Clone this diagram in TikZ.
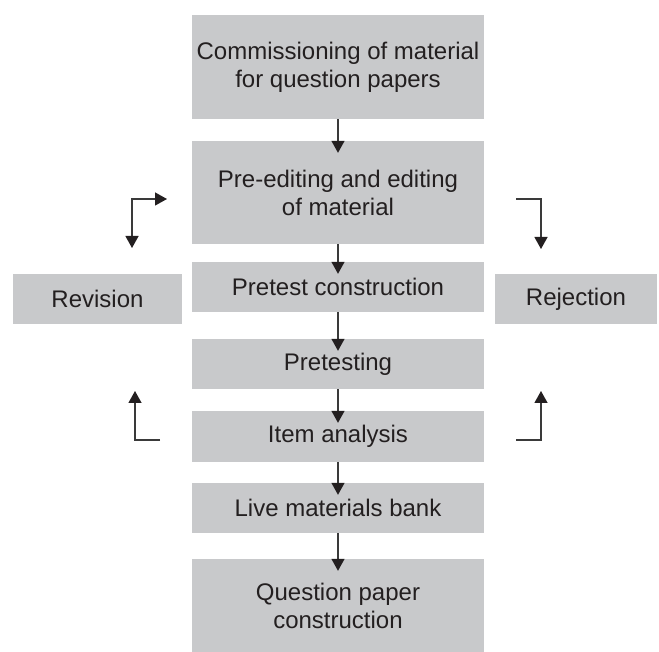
\documentclass[tikz,border=0pt]{standalone}
\usepackage{fontspec}
\setmainfont{Liberation Sans}
\usetikzlibrary{arrows.meta}
\definecolor{boxgray}{HTML}{C8C9CB}
\definecolor{ink}{HTML}{231F20}
\definecolor{linegray}{HTML}{3A3A3A}
\begin{document}
\begin{tikzpicture}[x=1pt,y=-1pt,
  stepbox/.style={fill=boxgray, draw=none, inner sep=0pt, align=center,
    text=ink, font=\fontsize{24}{28}\selectfont},
  flow/.style={draw=linegray, line width=1.3pt,
    -{Triangle[length=12pt,width=13pt,color=ink]}},
  flowboth/.style={draw=linegray, line width=1.3pt,
    {Triangle[length=12pt,width=13pt,color=ink]}-{Triangle[length=12pt,width=13pt,color=ink]}}]
\useasboundingbox (0,0) rectangle (659,652);

\node[stepbox, minimum width=292pt, minimum height=104pt] (comm) at (338,67)
  {Commissioning of material\\for question papers};
\node[stepbox, minimum width=292pt, minimum height=103pt] (edit) at (338,192.5)
  {Pre-editing and editing\\of material};
\node[stepbox, minimum width=292pt, minimum height=50pt] (ptc) at (338,287)
  {Pretest construction};
\node[stepbox, minimum width=292pt, minimum height=50pt] (pt) at (338,364)
  {Pretesting};
\node[stepbox, minimum width=292pt, minimum height=51pt] (ia) at (338,436.5)
  {Item analysis};
\node[stepbox, minimum width=292pt, minimum height=50pt] (live) at (338,508)
  {Live materials bank};
\node[stepbox, minimum width=292pt, minimum height=93pt] (qpc) at (338,605.5)
  {Question paper\\construction};
\node[stepbox, minimum width=169pt, minimum height=50pt] (rev) at (97.5,299)
  {Revision};
\node[stepbox, minimum width=162pt, minimum height=50pt] (rej) at (576,299)
  {Rejection};

% central flow: arrowhead base sits on the top edge of the next box
\foreach \a/\b in {comm/edit, edit/ptc, ptc/pt, pt/ia, ia/live, live/qpc}
  \draw[flow] (\a.south) -- ([yshift=-12pt]\b.north);

% side connectors
\coordinate (tlA) at (132,248);
\coordinate (tlB) at (167,199);
\draw[flowboth] (tlA) |- (tlB);

\coordinate (trA) at (516,199);
\coordinate (trB) at (541,249);
\draw[flow] (trA) -| (trB);

\coordinate (blA) at (160,440);
\coordinate (blB) at (135,391);
\draw[flow] (blA) -| (blB);

\coordinate (brA) at (516,440);
\coordinate (brB) at (541,391);
\draw[flow] (brA) -| (brB);
\end{tikzpicture}
\end{document}
